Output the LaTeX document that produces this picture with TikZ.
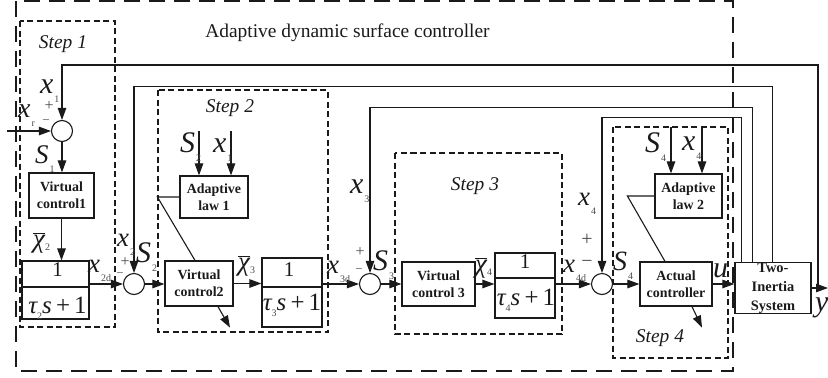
\documentclass[tikz,border=0pt]{standalone}
\usepackage{fontspec}
\setmainfont{Liberation Serif}
\usetikzlibrary{arrows.meta,calc}
\definecolor{ink}{HTML}{1A1A1A}
\definecolor{subc}{HTML}{4A4A4A}
\newcommand{\lab}[3][30]{{\fontsize{#1}{#1}\selectfont\itshape #2}\kern1bp\raisebox{-9bp}{\fontsize{10}{10}\selectfont\color{subc}#3}}
\newcommand{\chib}[1]{{\fontsize{27}{27}\selectfont\itshape $\overline{\mbox{χ}}$}\raisebox{-3bp}{\fontsize{10}{10}\selectfont\color{subc}#1}}
\newcommand{\den}[1]{{\itshape τ}\raisebox{-6bp}{\fontsize{10}{10}\selectfont\color{subc}#1}{\itshape s}\,+\,1}
\tikzset{
 conn/.style={draw=ink, line width=1.1bp},
 arr/.style={conn, -{Triangle[length=12bp,width=8.5bp]}},
 blk/.style={draw=ink, line width=1.2bp, align=center, font=\fontsize{14}{17}\selectfont\bfseries, inner sep=0, text=ink},
 filt/.style={draw=ink, line width=1.2bp, inner sep=0},
 sumc/.style={circle, draw=ink, line width=1.1bp, minimum size=21bp, inner sep=0},
 stepbox/.style={draw=ink, line width=1.3bp, dash pattern=on 6bp off 3.5bp},
 outerbox/.style={draw=ink, line width=1.4bp, dash pattern=on 16bp off 9bp},
 steplbl/.style={font=\fontsize{19.5}{19.5}\selectfont\itshape, text=ink, inner sep=0},
 ml/.style={anchor=base west, inner sep=0, text=ink},
 sign/.style={inner sep=0, text=subc, font=\fontsize{20}{20}\selectfont},
 ssign/.style={inner sep=0, text=subc, font=\fontsize{16}{16}\selectfont},
 msign/.style={inner sep=0, text=subc, font=\fontsize{13}{13}\selectfont},
 numr/.style={inner sep=0, text=ink, font=\fontsize{21}{21}\selectfont},
 denr/.style={inner sep=0, text=ink, anchor=base, font=\fontsize{25}{25}\selectfont},
}
\begin{document}
\begin{tikzpicture}[x=1bp,y=-1bp]
\useasboundingbox (0,0) rectangle (828,377);
% dashed frames
\draw[outerbox] (16,1) rectangle (733,371);
\draw[stepbox] (20,21) rectangle (115,327);
\draw[stepbox] (158,90) rectangle (328,332);
\draw[stepbox] (395,153) rectangle (562,334);
\draw[stepbox] (613,127) rectangle (728,358);
% titles
\node[inner sep=0, text=ink, font=\fontsize{19.5}{19.5}\selectfont] (title) at (347.5,33) {Adaptive dynamic surface controller};
\node[steplbl] (st1) at (63,44) {Step 1};
\node[steplbl] (st2) at (230,108) {Step 2};
\node[steplbl] (st3) at (475,186) {Step 3};
\node[steplbl] (st4) at (660,338) {Step 4};
% summing junctions
\node[sumc] (s1) at (62,131) {};
\node[sumc] (s2) at (134,284) {};
\node[sumc] (s3) at (370,284) {};
\node[sumc] (s4) at (602,284) {};
% blocks
\node[blk, minimum width=65bp, minimum height=45bp] (vc1) at (61.5,195.5) {Virtual\\control1};
\node[blk, minimum width=68bp, minimum height=42bp] (al1) at (214,197) {Adaptive\\law 1};
\node[blk, minimum width=68bp, minimum height=45bp] (vc2) at (199,283.5) {Virtual\\control2};
\node[blk, minimum width=73bp, minimum height=44bp] (vc3) at (438.5,284) {Virtual\\control 3};
\node[blk, minimum width=67bp, minimum height=44bp] (al2) at (688.5,196) {Adaptive\\law 2};
\node[blk, minimum width=72bp, minimum height=44bp] (ac) at (676,284) {Actual\\controller};
\node[blk, minimum width=76bp, minimum height=51bp, font=\fontsize{14.5}{19}\selectfont\bfseries] (ti) at (773,288) {Two-\\Inertia\\System};
% filters
\node[filt, minimum width=67bp, minimum height=58bp] (f1) at (55.5,290) {};
\draw[conn] (f1.west |- 0,287) -- (f1.east |- 0,287);
\node[numr] (f1n) at (57.5,270) {1};
\node[denr] (f1d) at (57.5,313) {\den{2}};
\node[filt, minimum width=60bp, minimum height=69bp] (f2) at (292,292.5) {};
\draw[conn] (f2.west |- 0,287) -- (f2.east |- 0,287);
\node[numr] (f2n) at (289,270) {1};
\node[denr] (f2d) at (292,310) {\den{3}};
\node[filt, minimum width=60bp, minimum height=65bp] (f3) at (525,285.5) {};
\draw[conn] (f3.west |- 0,278) -- (f3.east |- 0,278);
\node[numr] (f3n) at (525,262) {1};
\node[denr] (f3d) at (526,305) {\den{4}};
% forward path
\coordinate (xin) at (7,131);
\draw[arr] (xin) -- (s1.west);
\draw[arr] (s1.south) -- (s1.south |- vc1.north);
\draw[arr] (vc1.south) -- (vc1.south |- f1.north);
\draw[arr] (f1.east |- s2) -- (s2.west);
\draw[arr] (s2.east) -- (s2.east -| vc2.west);
\draw[arr] (vc2.east) -- (vc2.east -| f2.west);
\draw[arr] (f2.east |- s3) -- (s3.west);
\draw[arr] (s3.east) -- (s3.east -| vc3.west);
\draw[arr] (vc3.east) -- (vc3.east -| f3.west);
\draw[arr] (f3.east |- s4) -- (s4.west);
\draw[arr] (s4.east) -- (s4.east -| ac.west);
\draw[arr] (ac.east) -- (ac.east -| ti.west);
\coordinate (ytap) at (818,288);
\coordinate (yout) at (828,288);
\draw[arr] (ti.east) -- (yout);
% feedback lines
\draw[arr] (ytap) -- ++(0,-223) -| (s1.north);
\draw[arr] ([xshift=38bp]ti.north west) -- ++(0,-175) -| (s2.north);
\draw[arr] ([xshift=18bp]ti.north west) -- ++(0,-154) -| (s3.north);
\draw[arr] ([xshift=7bp]ti.north west) -- ++(0,-144) -| (s4.north);
% adaptive laws
\coordinate (s2in) at (199,131);
\coordinate (x1in) at (231,131);
\draw[arr] (s2in) -- (s2in |- al1.north);
\draw[arr] (x1in) -- (x1in |- al1.north);
\draw[conn] (al1.west) -- ++(-22,0) -- ([xshift=-4bp]vc2.north);
\draw[arr] ([xshift=19bp]vc2.south) -- ++(12,21);
\coordinate (s4in) at (671,127);
\coordinate (x4in) at (702,127);
\draw[arr] (s4in) -- (s4in |- al2.north);
\draw[arr] (x4in) -- (x4in |- al2.north);
\draw[conn] (al2.west) -- ++(-27,0) -- ([xshift=-11bp]ac.north);
\draw[arr] ([xshift=16bp]ac.south) -- ++(10,21);
% signal labels
\node[ml] (lx1) at (40,93) {\lab{x}{1}};
\node[ml] (lxr) at (18,117) {\lab[28]{x}{r}};
\node[ssign] (p1) at (49,106) {+};
\node[msign] (m1) at (46,122) {−};
\node[ml] (lS1) at (35,163) {\lab[27]{S}{1}};
\node[ml] (lchi2) at (33,247) {\chib{2}};
\node[ml] (lx2d) at (88,272) {\lab[27]{x}{2d}};
\node[ml] (lx2) at (117,246) {\lab[27]{x}{2}};
\node[ssign] (p2) at (125,262) {+};
\node[msign] (m2) at (120,275) {−};
\node[ml] (lS2) at (136,262) {\lab{S}{2}};
\node[ml] (lchi3) at (238,270) {\chib{3}};
\node[ml] (lx3d) at (327,273) {\lab[27]{x}{3d}};
\node[ml] (lx3) at (350,193) {\lab{x}{3}};
\node[ssign] (p3) at (360,252) {+};
\node[msign] (m3) at (359,271) {−};
\node[ml] (lS3) at (373,270) {\lab{S}{3}};
\node[ml] (lchi4) at (475,272) {\chib{4}};
\node[ml] (lx4d) at (563,272) {\lab[27]{x}{4d}};
\node[ml] (lx4) at (578,205) {\lab[27]{x}{4}};
\node[sign] (p4) at (587,240) {+};
\node[sign] (m4) at (587,264) {−};
\node[ml] (lS4) at (613,270) {\lab[28]{S}{4}};
\node[ml] (lu) at (713,277) {\lab{u}{}};
\node[ml] (ly) at (815,311) {\lab{y}{}};
\node[ml] (lS2b) at (180,152) {\lab{S}{2}};
\node[ml] (lx1b) at (213,152) {\lab{x}{1}};
\node[ml] (lS4b) at (645,152) {\lab{S}{4}};
\node[ml] (lx4b) at (682,150) {\lab{x}{4}};
\end{tikzpicture}
\end{document}
